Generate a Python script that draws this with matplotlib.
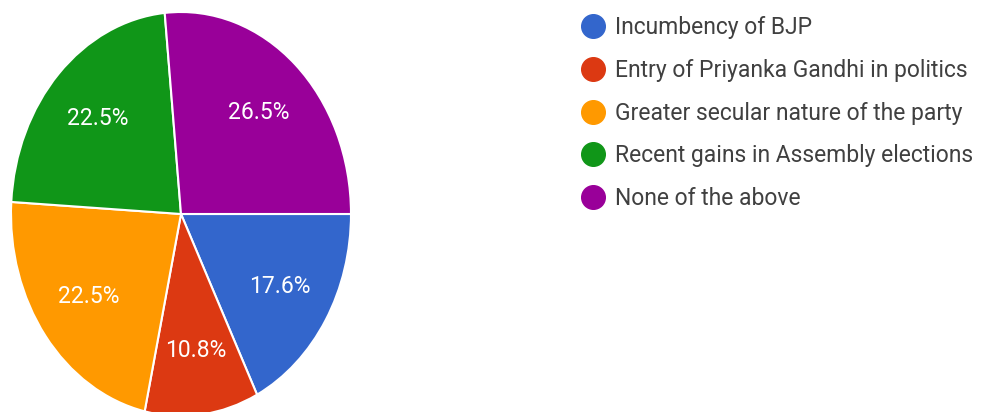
import matplotlib
matplotlib.use("Agg")
import matplotlib.pyplot as plt
from matplotlib.lines import Line2D

plt.rcParams['font.family'] = ['Roboto', 'DejaVu Sans']

labels = ['Incumbency of BJP', 'Entry of Priyanka Gandhi in politics',
          'Greater secular nature of the party', 'Recent gains in Assembly elections',
          'None of the above']
shares = [17.6, 10.8, 22.5, 22.5, 26.5]
colors = ['#3366cc', '#dc3912', '#ff9900', '#109618', '#990099']

W, H = 984, 412
fig = plt.figure(figsize=(W / 100, H / 100), dpi=100)

# pie is drawn as an ellipse (stretched vertically) like the screenshot
ax = fig.add_axes([11 / W, (H - 416) / H, 340 / W, 404 / H])
wedges, texts, autotexts = ax.pie(
    shares, colors=colors, startangle=0, counterclock=False,
    autopct='%.1f%%', pctdistance=0.68, radius=1,
    wedgeprops=dict(edgecolor='white', linewidth=1.5),
    textprops=dict(color='white', fontsize=16.5))
ax.set_aspect('auto')
ax.set_xlim(-1, 1)
ax.set_ylim(-1, 1)
ax.axis('off')

handles = [Line2D([], [], marker='o', linestyle='none', markersize=17,
                  markerfacecolor=c, markeredgecolor=c) for c in colors]
leg = fig.legend(handles, labels, loc='upper left',
                 bbox_to_anchor=(571 / W, 1 - 7 / H), frameon=False,
                 fontsize=16.5, labelspacing=0.86, handletextpad=0.4,
                 handlelength=1.1, borderaxespad=0)
for t in leg.get_texts():
    t.set_color('#404040')

fig.savefig('out.png', dpi=100)
